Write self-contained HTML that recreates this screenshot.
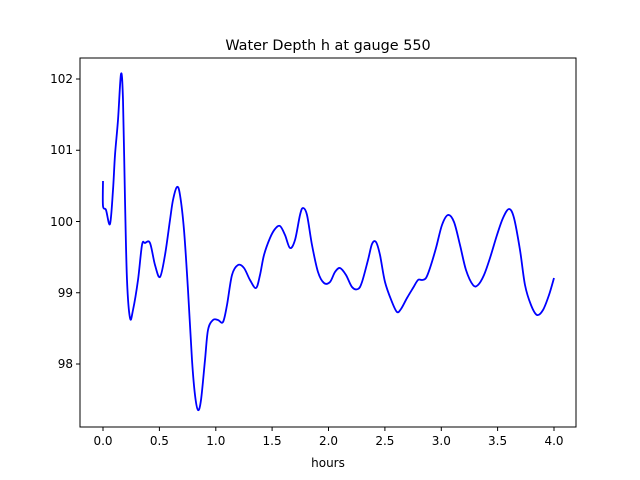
<!DOCTYPE html>
<html><head><style>body{margin:0;background:#fff}svg{display:block}text{font-family:"DejaVu Sans","Liberation Sans",sans-serif}</style></head>
<body>
<svg width="640" height="480" xmlns="http://www.w3.org/2000/svg">
<rect width="640" height="480" fill="#fff"/>
<polyline id="pl" fill="none" stroke="#0000ff" stroke-width="1.8" stroke-linejoin="round" points="103,181 103,206 106,210 110,224 113,190 115,155 118,120 121,74 123,100 125,200 127,280 130,318 133,310 138,280 142,245 145,243 150,243 155,265 160,277 165,255 170,220 173,200 177,187 180,195 184,230 188,290 192,360 195,395 198,410 201,400 205,360 208,330 213,320 218,320 223,322 227,305 232,275 238,265 244,268 250,280 256,288 260,275 264,255 270,238 275,229 280,226 285,235 290,248 295,240 300,215 303,208 307,215 312,245 318,272 324,283 330,282 335,272 340,268 346,275 352,287 358,289 362,282 368,260 372,244 376,242 380,255 385,282 392,302 397,312 401,309 407,298 413,288 418,280 422,280 426,278 430,268 436,248 442,225 448,215 454,222 460,245 466,270 473,285 478,285 484,275 490,258 497,235 503,218 509,209 514,218 520,250 525,285 531,305 537,315 543,310 549,295 554,278"/>
<path id="sm" fill="none" stroke="#0000ff" stroke-width="1.8" stroke-linejoin="round" d=""/>
<rect x="80" y="58" width="496" height="369" fill="none" stroke="#000" stroke-width="1"/>
<g stroke="#000" stroke-width="1">
<line x1="103" y1="427" x2="103" y2="431"/><line x1="159.4" y1="427" x2="159.4" y2="431"/><line x1="215.8" y1="427" x2="215.8" y2="431"/><line x1="272.1" y1="427" x2="272.1" y2="431"/><line x1="328.5" y1="427" x2="328.5" y2="431"/><line x1="384.9" y1="427" x2="384.9" y2="431"/><line x1="441.3" y1="427" x2="441.3" y2="431"/><line x1="497.6" y1="427" x2="497.6" y2="431"/><line x1="554" y1="427" x2="554" y2="431"/>
<line x1="76" y1="79" x2="80" y2="79"/><line x1="76" y1="150.25" x2="80" y2="150.25"/><line x1="76" y1="221.5" x2="80" y2="221.5"/><line x1="76" y1="292.75" x2="80" y2="292.75"/><line x1="76" y1="364" x2="80" y2="364"/>
</g>
<g font-size="12" fill="#000" text-anchor="middle">
<text x="103" y="445">0.0</text><text x="159.4" y="445">0.5</text><text x="215.8" y="445">1.0</text><text x="272.1" y="445">1.5</text><text x="328.5" y="445">2.0</text><text x="384.9" y="445">2.5</text><text x="441.3" y="445">3.0</text><text x="497.6" y="445">3.5</text><text x="554" y="445">4.0</text>
<text x="328" y="467">hours</text>
</g>
<g font-size="12" fill="#000" text-anchor="end">
<text x="73" y="83">102</text><text x="73" y="154">101</text><text x="73" y="226">100</text><text x="73" y="297">99</text><text x="73" y="368">98</text>
</g>
<text x="328" y="50" font-size="14.4" text-anchor="middle">Water Depth h at gauge 550</text>
</svg>
<script>
(function(){
var pl=document.getElementById('pl');
var p=pl.getAttribute('points').trim().split(/\s+/).map(function(s){var a=s.split(',');return [+a[0],+a[1]];});
var d='M'+p[0][0]+','+p[0][1];
for(var i=0;i<p.length-1;i++){
var p0=p[i>0?i-1:i],p1=p[i],p2=p[i+1],p3=p[i+2<p.length?i+2:i+1];
var c1x=p1[0]+(p2[0]-p0[0])/6,c1y=p1[1]+(p2[1]-p0[1])/6;
var c2x=p2[0]-(p3[0]-p1[0])/6,c2y=p2[1]-(p3[1]-p1[1])/6;
d+=' C'+c1x.toFixed(2)+','+c1y.toFixed(2)+' '+c2x.toFixed(2)+','+c2y.toFixed(2)+' '+p2[0]+','+p2[1];
}
document.getElementById('sm').setAttribute('d',d);
pl.parentNode.removeChild(pl);
})();
</script>
</body></html>
